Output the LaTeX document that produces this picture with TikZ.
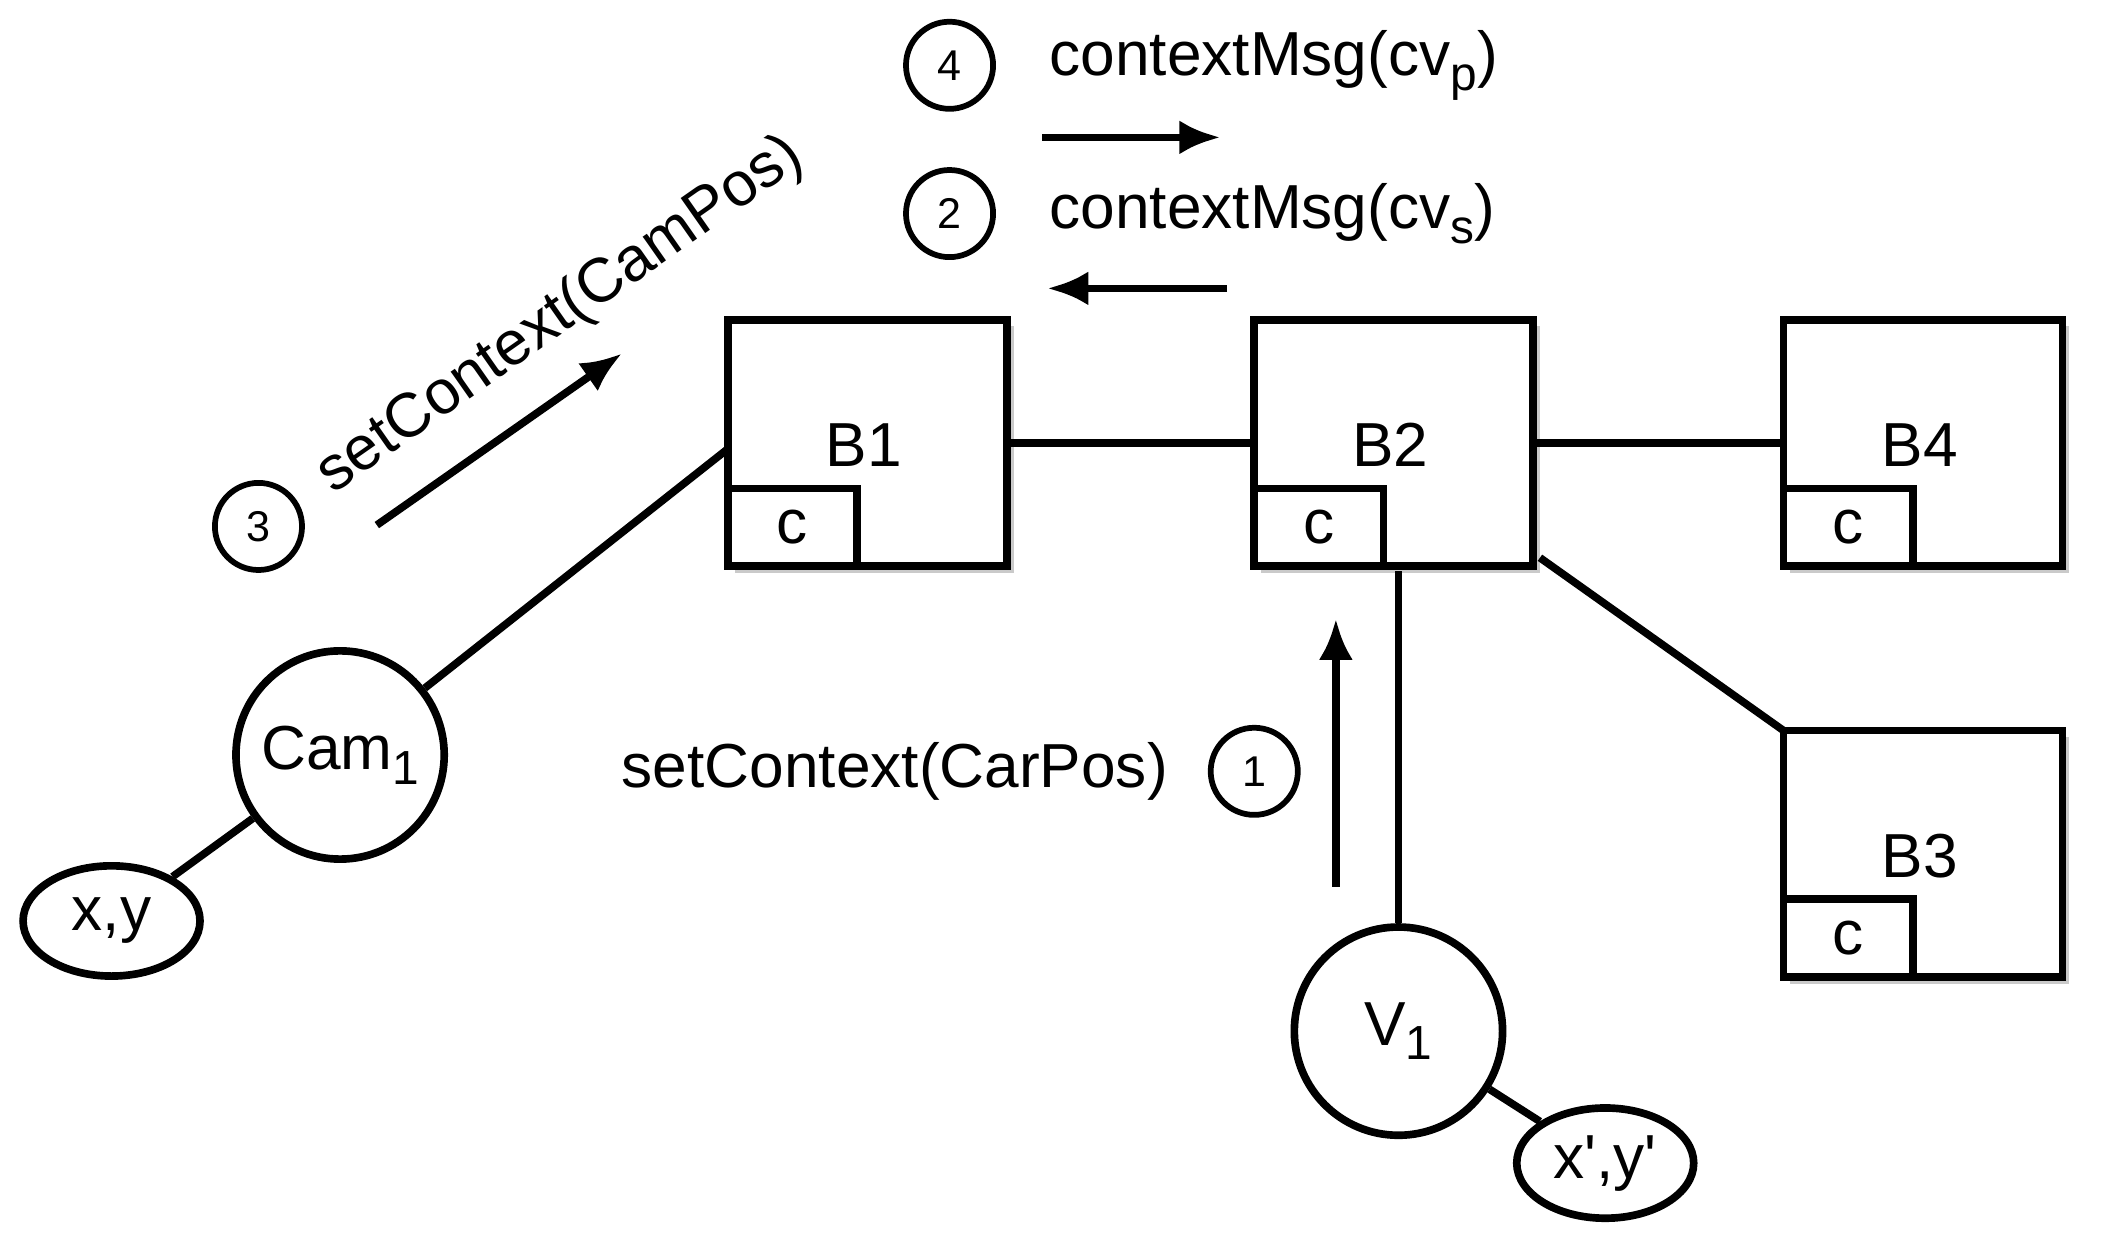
\documentclass[tikz,border=0pt]{standalone}
\usepackage{fontspec}
\setmainfont{Liberation Sans}
\usetikzlibrary{shadows,arrows.meta,shapes.geometric}
\newcommand{\sbs}[1]{\raisebox{-0.45ex}{\fontsize{10}{12}\selectfont #1}}
\begin{document}
\begin{tikzpicture}[x=0.01cm,y=-0.01cm,line width=1.6pt,
 box/.style={draw,fill=white,minimum width=2.05cm,minimum height=1.81cm,outer sep=0pt,drop shadow={shadow xshift=0.05cm,shadow yshift=-0.05cm,opacity=0.35,fill=black!60}},
 cbox/.style={draw,minimum width=0.95cm,minimum height=0.57cm,anchor=south west,inner sep=0pt,outer sep=0pt},
 big/.style={circle,draw,fill=white,minimum size=1.53cm,inner sep=0pt,font=\fontsize{13}{15}\selectfont},
 ell/.style={ellipse,draw,fill=white,minimum width=1.3cm,minimum height=0.81cm,inner sep=0pt,font=\fontsize{13}{15}\selectfont},
 num/.style={circle,draw,line width=1.2pt,minimum size=0.64cm,inner sep=0pt,font=\fontsize{9}{11}\selectfont},
 lab/.style={font=\fontsize{13}{15}\selectfont},
 arr/.style={-{Latex[length=0.3cm,width=0.25cm]}}]
\useasboundingbox (0,0) rectangle (1554,910);
\foreach \n/\x/\y in {B1/535/235,B2/922/235,B4/1311/235,B3/1311/537}{
  \node[box,anchor=north west] (\n) at (\x,\y) {};
  \node[lab] (\n t) at ([xshift=1cm,yshift=-0.92cm]\n.north west) {\n};
  \node[cbox] (\n c) at (\n.south west) {};
  \node[lab] at (\n c) {c};
}
\node[big] (cam) at (250,555) {Cam\sbs{1}};
\node[ell] (xy) at (82,677) {x,y};
\node[big] (v) at (1028,758) {V\sbs{1}};
\node[ell] (xy2) at (1180,855) {x\textquotesingle,y\textquotesingle};
\draw (B1.east) -- (B2.west);
\draw (B2.east) -- (B4.west);
\coordinate (b2r) at (1132,410);
\draw (b2r) -- (B3.north west);
\coordinate (b1a) at (535,330);
\draw (cam) -- (b1a);
\draw (cam) -- (xy);
\coordinate (b2b) at (1028,420);
\draw (v) -- (b2b);
\draw (v) -- (xy2);
\coordinate (a1s) at (982,652); \coordinate (a1e) at (982,455);
\draw[arr] (a1s) -- (a1e);
\coordinate (a3s) at (277,386); \coordinate (a3e) at (457,260);
\draw[arr] (a3s) -- (a3e);
\coordinate (a4s) at (766,101); \coordinate (a4e) at (897,101);
\draw[arr] (a4s) -- (a4e);
\coordinate (a2s) at (902,212); \coordinate (a2e) at (770,212);
\draw[arr] (a2s) -- (a2e);
\node[num] (n4) at (698,48) {4};
\node[num] (n2) at (698,157) {2};
\node[num] (n3) at (190,387) {3};
\node[num] (n1) at (922,567) {1};
\node[lab,anchor=west] at (757,48) {contextMsg(cv\sbs{p})};
\node[lab,anchor=west] at (757,157) {contextMsg(cv\sbs{s})};
\node[lab,anchor=east] at (873,567) {setContext(CarPos)};
\node[lab,rotate=35] at (412,232) {setContext(CamPos)};
\end{tikzpicture}
\end{document}
